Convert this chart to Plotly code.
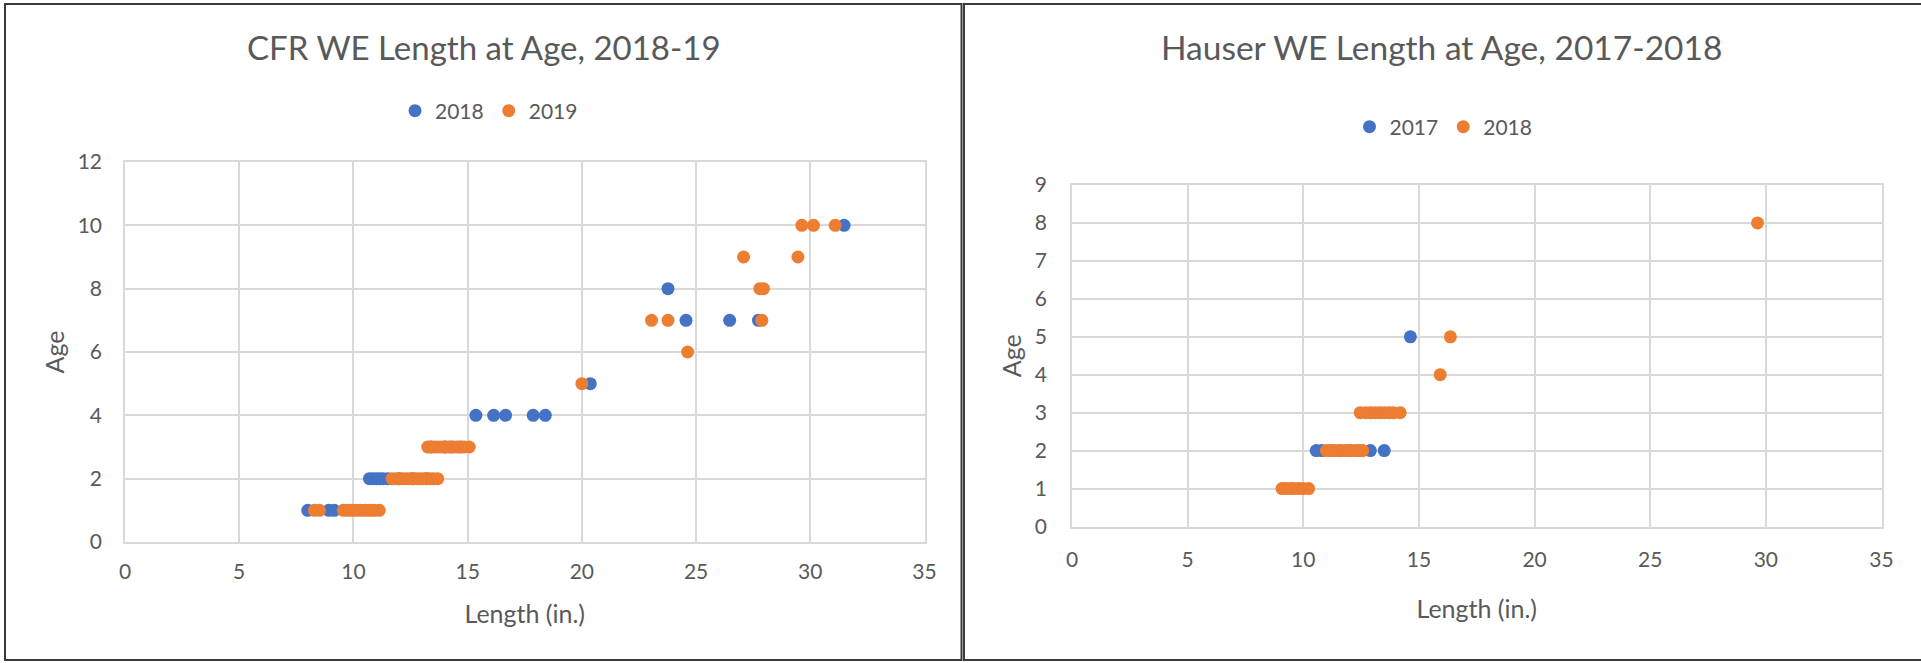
import plotly.graph_objects as go

# ---------------- data ----------------
# Left chart: CFR WE Length at Age, 2018-19
cfr_2018_len = [8.0, 8.92, 9.16,
                10.7, 10.85, 11.0, 11.15, 11.3, 11.5, 12.0, 12.6, 13.2,
                13.4, 14.0, 14.27, 14.71,
                15.36, 16.14, 16.66, 17.87, 18.4,
                20.37,
                24.56, 26.47, 27.73,
                23.77,
                31.48]
cfr_2018_age = [1, 1, 1,
                2, 2, 2, 2, 2, 2, 2, 2, 2,
                3, 3, 3, 3,
                4, 4, 4, 4, 4,
                5,
                7, 7, 7,
                8,
                10]

cfr_2019_len = [8.29, 8.51, 9.56, 9.75, 9.95, 10.1, 10.3, 10.5, 10.7, 10.9, 11.13,
                11.69, 11.85, 12.0, 12.15, 12.3, 12.45, 12.6, 12.75, 12.9, 13.05, 13.2, 13.35, 13.5, 13.69,
                13.25, 13.4, 13.55, 13.7, 13.85, 14.0, 14.15, 14.35, 14.5, 14.6, 14.85, 15.07,
                20.0,
                24.63,
                23.05, 23.77, 27.88,
                27.79, 27.95,
                27.08, 29.46,
                29.63, 30.14, 31.09]
cfr_2019_age = [1, 1, 1, 1, 1, 1, 1, 1, 1, 1, 1,
                2, 2, 2, 2, 2, 2, 2, 2, 2, 2, 2, 2, 2, 2,
                3, 3, 3, 3, 3, 3, 3, 3, 3, 3, 3, 3,
                5,
                6,
                7, 7, 7,
                8, 8,
                9, 9,
                10, 10, 10]

# Right chart: Hauser WE Length at Age, 2017-2018
hau_2017_len = [10.56, 10.8, 11.2, 11.6, 12.0, 12.4, 12.9, 13.5, 14.63]
hau_2017_age = [2, 2, 2, 2, 2, 2, 2, 2, 5]

hau_2018_len = [9.08, 9.25, 9.45, 9.6, 9.8, 10.0, 10.23,
                11.0, 11.2, 11.4, 11.6, 11.8, 12.0, 12.2, 12.4, 12.57,
                12.46, 12.7, 12.9, 13.1, 13.3, 13.5, 13.7, 13.9, 14.19,
                15.92, 16.36, 29.64]
hau_2018_age = [1, 1, 1, 1, 1, 1, 1,
                2, 2, 2, 2, 2, 2, 2, 2, 2,
                3, 3, 3, 3, 3, 3, 3, 3, 3,
                4, 5, 8]

titles = ["CFR WE Length at Age, 2018-19", "Hauser WE Length at Age, 2017-2018"]
x_title = "Length (in.)"
y_title = "Age"
x_ticks = [0, 5, 10, 15, 20, 25, 30, 35]

# ---------------- style ----------------
W, H = 1921, 663
BLUE = "#4472C4"
ORANGE = "#ED7D31"
TXT = "#595959"
GRID = "#d9d9d9"
FONT = "Lato"
MS = 13
TICK_FS = 21
AXT_FS = 25
TITLE_FS = 33


def px_x(x):
    return x / W


def px_y(y):
    return 1 - y / H


fig = go.Figure()

fig.add_trace(go.Scatter(x=cfr_2018_len, y=cfr_2018_age, mode="markers", name="2018",
                         marker=dict(color=BLUE, size=MS), xaxis="x", yaxis="y", legend="legend"))
fig.add_trace(go.Scatter(x=cfr_2019_len, y=cfr_2019_age, mode="markers", name="2019",
                         marker=dict(color=ORANGE, size=MS), xaxis="x", yaxis="y", legend="legend"))
fig.add_trace(go.Scatter(x=hau_2017_len, y=hau_2017_age, mode="markers", name="2017",
                         marker=dict(color=BLUE, size=MS), xaxis="x2", yaxis="y2", legend="legend2"))
fig.add_trace(go.Scatter(x=hau_2018_len, y=hau_2018_age, mode="markers", name="2018",
                         marker=dict(color=ORANGE, size=MS), xaxis="x2", yaxis="y2", legend="legend2"))

axis_common = dict(showgrid=True, gridcolor=GRID, gridwidth=1.5, zeroline=False,
                   showline=True, linecolor=GRID, linewidth=1.5, mirror=True, automargin=False,
                   tickfont=dict(family=FONT, size=TICK_FS, color=TXT), ticks="")
title_font = dict(family=FONT, size=AXT_FS, color=TXT)

# plot areas in pixels
L = dict(x0=125, x1=924.5, y0=162, y1=542)
R = dict(x0=1072, x1=1881.5, y0=185, y1=526.5)

fig.update_layout(
    width=W, height=H,
    margin=dict(l=0, r=0, t=0, b=0, autoexpand=False),
    paper_bgcolor="white", plot_bgcolor="white",
    font=dict(family=FONT, color=TXT),
    xaxis=dict(domain=[px_x(L["x0"]), px_x(L["x1"])], range=[0, 35], tickvals=x_ticks,
               anchor="y", ticklabelstandoff=10,
               title=dict(text=x_title, font=title_font, standoff=24),
               **axis_common),
    yaxis=dict(domain=[px_y(L["y1"]), px_y(L["y0"])], range=[0, 12], dtick=2,
               anchor="x", ticklabelstandoff=17,
               title=dict(text=y_title, font=title_font, standoff=6),
               **axis_common),
    xaxis2=dict(domain=[px_x(R["x0"]), px_x(R["x1"])], range=[0, 35], tickvals=x_ticks,
                anchor="y2", ticklabelstandoff=14,
                title=dict(text=x_title, font=title_font, standoff=30),
                **axis_common),
    yaxis2=dict(domain=[px_y(R["y1"]), px_y(R["y0"])], range=[0, 9], dtick=1,
                anchor="x2", ticklabelstandoff=19,
                title=dict(text=y_title, font=title_font, standoff=6),
                **axis_common),
    legend=dict(orientation="h", x=px_x(489), y=px_y(111), xanchor="center", yanchor="middle",
                font=dict(family=FONT, size=TICK_FS, color=TXT), itemwidth=30, bgcolor="rgba(0,0,0,0)"),
    legend2=dict(orientation="h", x=px_x(1443.5), y=px_y(127), xanchor="center", yanchor="middle",
                 font=dict(family=FONT, size=TICK_FS, color=TXT), itemwidth=30, bgcolor="rgba(0,0,0,0)"),
    showlegend=True,
)

# chart titles
fig.add_annotation(text=titles[0], x=px_x(484), y=px_y(47), xref="paper", yref="paper",
                   showarrow=False, xanchor="center", yanchor="middle",
                   font=dict(family=FONT, size=TITLE_FS, color=TXT))
fig.add_annotation(text=titles[1], x=px_x(1441), y=px_y(47), xref="paper", yref="paper",
                   showarrow=False, xanchor="center", yanchor="middle",
                   font=dict(family=FONT, size=TITLE_FS + 0.5, color=TXT))

# chart frames
fig.add_shape(type="rect", xref="paper", yref="paper",
              x0=px_x(5), x1=px_x(961.5), y0=px_y(660), y1=px_y(4),
              line=dict(color="#3a3a3a", width=2), fillcolor="rgba(0,0,0,0)", layer="below")
fig.add_shape(type="rect", xref="paper", yref="paper",
              x0=px_x(964), x1=px_x(1925), y0=px_y(660), y1=px_y(4),
              line=dict(color="#3a3a3a", width=2), fillcolor="rgba(0,0,0,0)", layer="below")

fig.write_html("out.html",
               config=dict(displayModeBar=False),
               post_script="document.body.style.margin='0';document.body.style.overflow='hidden';")
